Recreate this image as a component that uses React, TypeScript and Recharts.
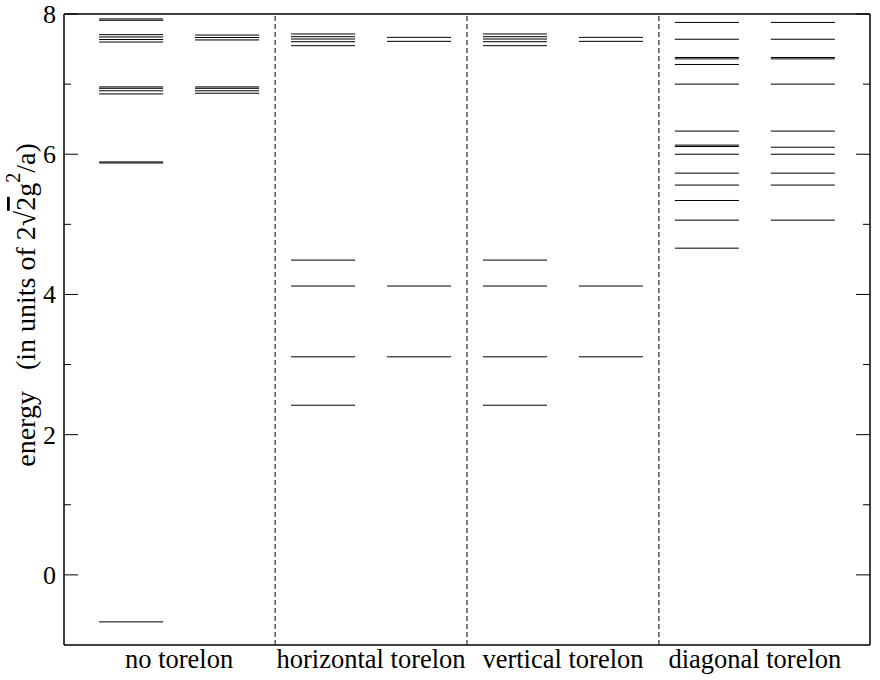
import React from "react";
import {
  ComposedChart,
  Line,
  XAxis,
  YAxis,
  ReferenceLine,
} from "recharts";

// energy levels, one array per column (two columns per torelon sector)
const categories = ["no torelon", "horizontal torelon", "vertical torelon", "diagonal torelon"];
const noTorelonLeft = [-0.67, 5.875, 5.89, 6.86, 6.905, 6.94, 6.96, 7.6, 7.636, 7.672, 7.705, 7.91, 7.93];
const noTorelonRight = [6.87, 6.905, 6.94, 6.96, 7.63, 7.665, 7.7];
const horizontalLeft = [2.42, 3.11, 4.12, 4.49, 7.548, 7.605, 7.643, 7.676, 7.715];
const horizontalRight = [3.11, 4.12, 7.61, 7.667];
const verticalLeft = [2.42, 3.11, 4.12, 4.49, 7.548, 7.605, 7.643, 7.676, 7.715];
const verticalRight = [3.11, 4.12, 7.61, 7.667];
const diagonalLeft = [4.66, 5.06, 5.34, 5.56, 5.73, 6.0, 6.11, 6.13, 6.33, 7.0, 7.28, 7.36, 7.38, 7.64, 7.88];
const diagonalRight = [5.06, 5.56, 5.73, 6.0, 6.1, 6.33, 7.0, 7.36, 7.38, 7.64, 7.88];
const yTicks = [0, 1, 2, 3, 4, 5, 6, 7, 8];
const xTicks = [1, 2, 3, 4];
const separators = [1.5, 2.5, 3.5];

const FONT = "Liberation Serif, Times New Roman, serif";

// column = levels drawn as short horizontal segments, gaps via null points
const toSegments = (levels: number[], center: number, side: -1 | 1) => {
  const lo = side < 0 ? center - 0.417 : center + 0.083;
  const hi = side < 0 ? center - 0.083 : center + 0.417;
  const pts: { x: number; y: number | null }[] = [];
  levels.forEach((v) => {
    pts.push({ x: lo, y: v });
    pts.push({ x: hi, y: v });
    pts.push({ x: hi, y: null });
  });
  return pts;
};

const columns = [
  { key: "c1l", data: toSegments(noTorelonLeft, 1, -1) },
  { key: "c1r", data: toSegments(noTorelonRight, 1, 1) },
  { key: "c2l", data: toSegments(horizontalLeft, 2, -1) },
  { key: "c2r", data: toSegments(horizontalRight, 2, 1) },
  { key: "c3l", data: toSegments(verticalLeft, 3, -1) },
  { key: "c3r", data: toSegments(verticalRight, 3, 1) },
  { key: "c4l", data: toSegments(diagonalLeft, 4, -1) },
  { key: "c4r", data: toSegments(diagonalRight, 4, 1) },
];

const LeftTick = (props: any) => {
  const { x, y, payload } = props;
  const major = payload.value % 2 === 0;
  return (
    <g>
      <line x1={x} x2={x + (major ? 14 : 7)} y1={y} y2={y} stroke="#000" strokeWidth={1} />
      {major && (
        <text x={x - 8} y={y} dy={9} textAnchor="end" fontSize={26} style={{ fontFamily: FONT }} fill="#000">
          {payload.value}
        </text>
      )}
    </g>
  );
};

const RightTick = (props: any) => {
  const { x, y, payload } = props;
  const major = payload.value % 2 === 0;
  return <line x1={x} x2={x - (major ? 14 : 7)} y1={y} y2={y} stroke="#000" strokeWidth={1} />;
};

const BottomTick = (props: any) => {
  const { x, y, payload } = props;
  return (
    <text x={x} y={y} dy={23} textAnchor="middle" fontSize={26.5} style={{ fontFamily: FONT }} fill="#000">
      {categories[payload.value - 1]}
    </text>
  );
};

const YLabel = () => {
  const cx = 25;
  const cy = 305;
  return (
    <text
      x={cx}
      y={cy}
      transform={`rotate(-90 ${cx} ${cy})`}
      textAnchor="middle"
      dominantBaseline="central"
      fontSize={28}
      fill="#000"
      style={{ whiteSpace: "pre", fontFamily: FONT }}
    >
      <tspan>{"energy   (in units of 2√"}</tspan>
      <tspan textDecoration="overline">2</tspan>
      <tspan>g</tspan>
      <tspan dy={-12} fontSize={20}>2</tspan>
      <tspan dy={12}>/a)</tspan>
    </text>
  );
};

export default function App() {
  return (
    <div style={{ position: "absolute", left: 0, top: 0, background: "#fff" }}>
      <ComposedChart width={880} height={680} margin={{ top: 14, right: 0, bottom: 0, left: 0 }}>
        <XAxis
          dataKey="x"
          type="number"
          domain={[0.4, 4.6]}
          ticks={xTicks}
          allowDataOverflow
          height={35}
          tickLine={false}
          tickSize={0}
          tickMargin={0}
          axisLine={{ stroke: "#000", strokeWidth: 1.5 }}
          tick={<BottomTick />}
        />
        <YAxis
          yAxisId="left"
          type="number"
          domain={[-1, 8]}
          ticks={yTicks}
          allowDataOverflow
          width={64}
          tickLine={false}
          tickSize={0}
          tickMargin={0}
          axisLine={{ stroke: "#000", strokeWidth: 1.5 }}
          tick={<LeftTick />}
          label={{ content: () => <YLabel /> }}
        />
        <YAxis
          yAxisId="right"
          orientation="right"
          type="number"
          domain={[-1, 8]}
          ticks={yTicks}
          allowDataOverflow
          width={10}
          tickLine={false}
          tickSize={0}
          tickMargin={0}
          axisLine={{ stroke: "#000", strokeWidth: 1.5 }}
          tick={<RightTick />}
        />
        <ReferenceLine yAxisId="left" y={8} stroke="#000" strokeWidth={1.5} />
        {separators.map((s) => (
          <ReferenceLine key={s} yAxisId="left" x={s} stroke="#000" strokeWidth={1} strokeDasharray="5 3" />
        ))}
        {columns.map((c) => (
          <Line
            key={c.key}
            yAxisId="left"
            data={c.data}
            dataKey="y"
            type="linear"
            stroke="#000"
            strokeWidth={1}
            dot={false}
            activeDot={false}
            connectNulls={false}
            isAnimationActive={false}
          />
        ))}
      </ComposedChart>
    </div>
  );
}
